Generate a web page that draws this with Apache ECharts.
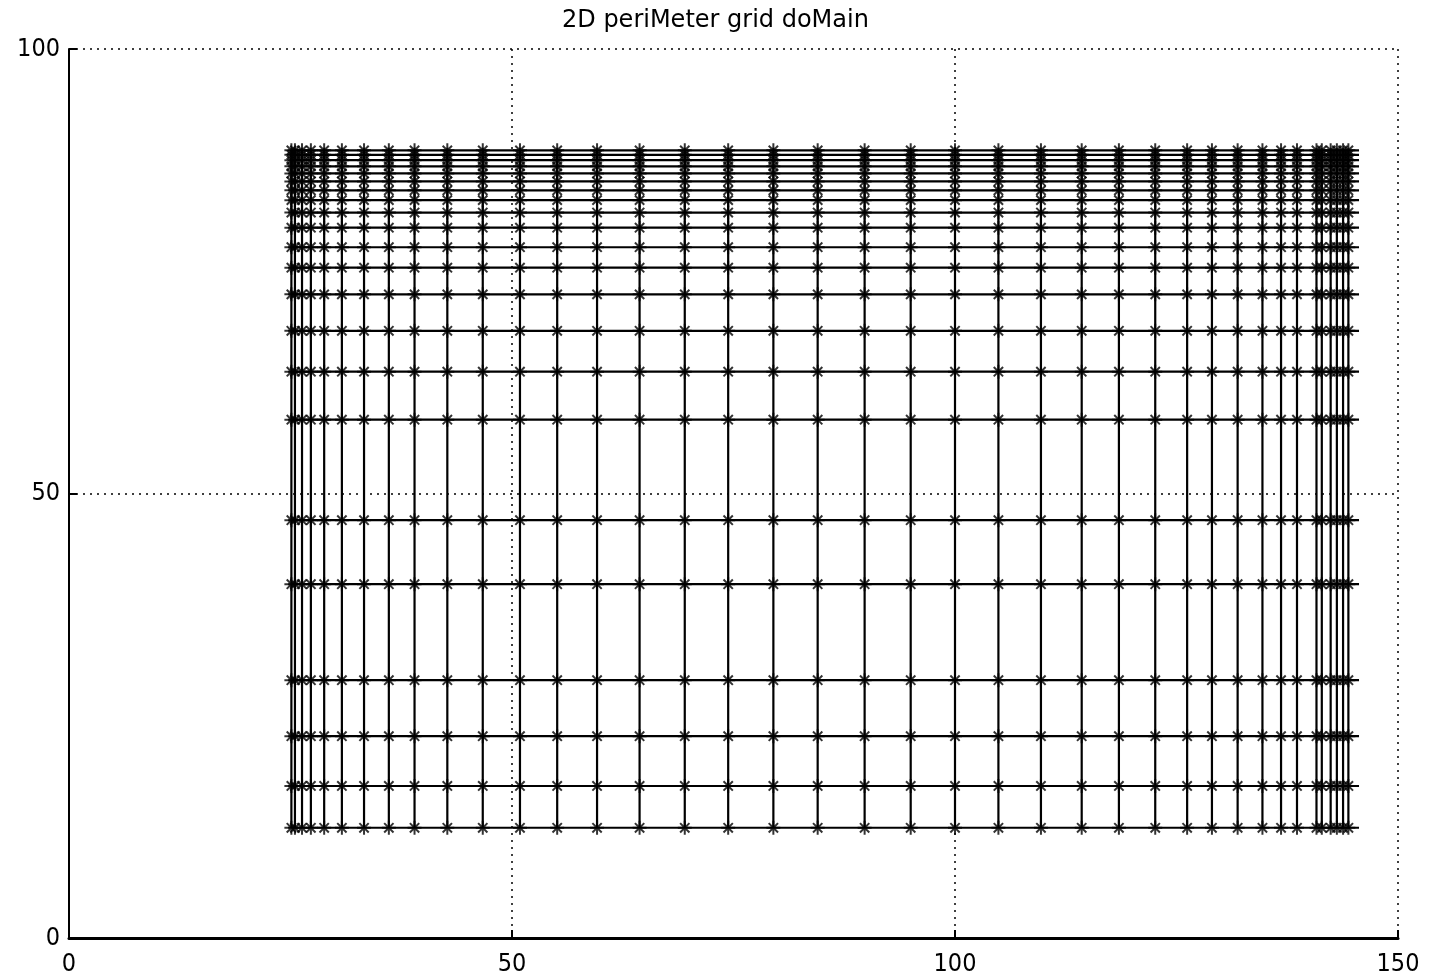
<!DOCTYPE html>
<html>
<head>
<meta charset="utf-8">
<script src="https://cdn.jsdelivr.net/npm/echarts@6/dist/echarts.min.js"></script>
<style>html,body{margin:0;padding:0;background:#fff}#c{width:1430px;height:979px}</style>
</head>
<body>
<div id="c"></div>
<script>
const titleText = '2D periMeter grid doMain';
const xTicks = [0, 50, 100, 150];
const yTicks = [0, 50, 100];
// grid column positions (x) and row positions (y)
const xCols = [25.1, 25.5, 26.3, 27.3, 28.8, 30.8, 33.3, 36.1, 39.0, 42.7, 46.7, 50.9, 55.1, 59.6, 64.4, 69.5, 74.4, 79.5, 84.5, 89.8, 95.0, 100.0, 104.9, 109.7, 114.3, 118.5, 122.6, 126.2, 129.0, 131.9, 134.7, 136.8, 138.6, 140.8, 141.4, 142.4, 143.1, 143.8, 144.4];
const yRows = [12.4, 17.1, 22.7, 29.0, 39.8, 47.0, 58.3, 63.7, 68.3, 72.4, 75.4, 77.7, 79.9, 81.6, 83.0, 84.1, 85.1, 86.0, 86.8, 87.5, 88.1, 88.6];
const xRowEnd = 145.6;

const FONT = '"DejaVu Sans Condensed", "Liberation Sans Narrow", sans-serif';
const series = [];
const lineStyle = {color: '#000', width: 2.2};
yRows.forEach(y => {
  series.push({type: 'line', data: [[xCols[0], y], [xRowEnd, y]], symbol: 'none', lineStyle, silent: true, animation: false});
});
xCols.forEach(x => {
  series.push({type: 'line', data: [[x, yRows[0]], [x, yRows[yRows.length - 1]]], symbol: 'none', lineStyle, silent: true, animation: false});
});
const nodes = [];
xCols.forEach(x => yRows.forEach(y => nodes.push([x, y])));
series.push({
  type: 'scatter', data: nodes, animation: false, silent: true,
  symbol: 'path://M0,-6L0,6M-6,0L6,0M-4,-4L4,4M-4,4L4,-4',
  symbolSize: 14,
  itemStyle: {color: 'none', borderColor: '#000', borderWidth: 2}
});

const chart = echarts.init(document.getElementById('c'), null, {renderer: 'canvas'});
chart.setOption({
  animation: false,
  backgroundColor: '#fff',
  graphic: [{
    type: 'text', left: 562, top: 9,
    style: {text: titleText, fontFamily: '"DejaVu Sans", sans-serif', fontSize: 24, fill: '#000'}
  }],
  grid: {left: 69, right: 32, top: 49, bottom: 41, containLabel: false},
  xAxis: {
    type: 'value', min: 0, max: 150, interval: 50,
    axisLine: {show: true, lineStyle: {color: '#000', width: 3}},
    axisTick: {show: true, inside: true, length: 8, lineStyle: {color: '#000', width: 2}},
    axisLabel: {fontFamily: FONT, fontSize: 25, color: '#000', margin: 14},
    splitLine: {show: true, lineStyle: {color: '#000', width: 1.5, type: [2, 5]}}
  },
  yAxis: {
    type: 'value', min: 0, max: 100, interval: 50,
    axisLine: {show: true, lineStyle: {color: '#000', width: 2}},
    axisTick: {show: true, inside: true, length: 8, lineStyle: {color: '#000', width: 2}},
    axisLabel: {fontFamily: FONT, fontSize: 25, color: '#000', margin: 9},
    splitLine: {show: true, lineStyle: {color: '#000', width: 1.5, type: [2, 5]}}
  },
  series
});
</script>
</body>
</html>
